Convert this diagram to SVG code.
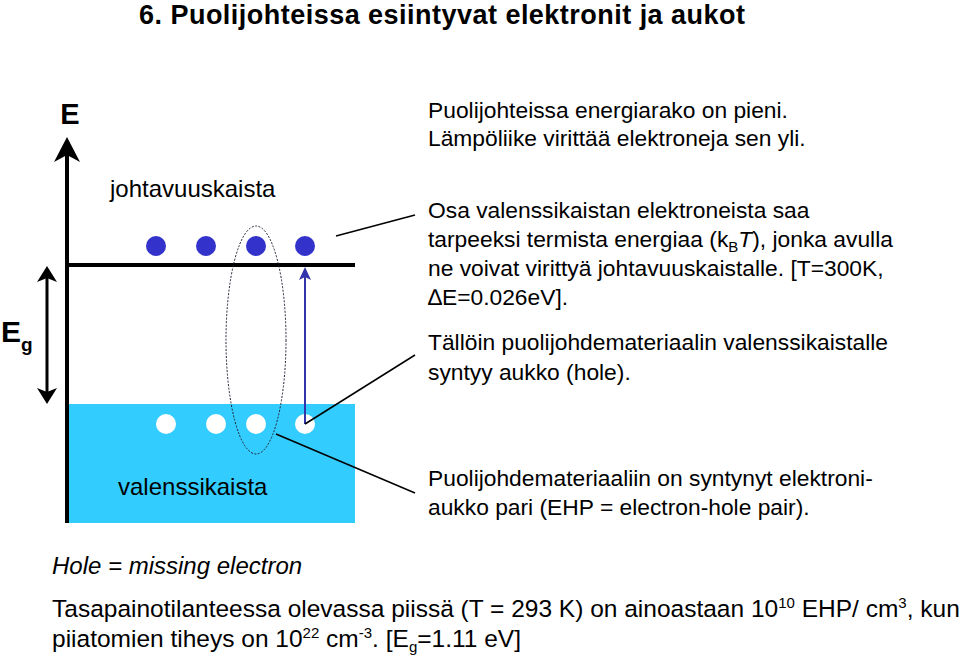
<svg xmlns="http://www.w3.org/2000/svg" width="960" height="658" viewBox="0 0 960 658">
<style>
text{font-family:"Liberation Sans",Arial,sans-serif;fill:#000}
.t{font-size:22.8px}
.b{font-size:24px}
.e{fill:#3333cc}
.h{fill:#fff}
.l{stroke:#000;stroke-width:1.5}
</style>
<rect width="960" height="658" fill="#fff"/>
<text x="139" y="24" font-size="27" font-weight="bold" textLength="606">6. Puolijohteissa esiintyvat elektronit ja aukot</text>
<g id="band">
<rect x="67" y="404" width="288" height="119" fill="#33ccff"/>
<line x1="67" y1="265" x2="355" y2="265" stroke="#000" stroke-width="4"/>
<text x="110" y="197" class="b">johtavuuskaista</text>
<text x="118" y="495" class="b">valenssikaista</text>
</g>
<g id="axis">
<line x1="67" y1="150" x2="67" y2="523" stroke="#000" stroke-width="4"/>
<path d="M54,162 L67,137 L80,162 L67,155Z" fill="#000"/>
<text x="70" y="124" font-size="29" font-weight="bold" text-anchor="middle">E</text>
</g>
<g id="eg">
<line x1="47" y1="275" x2="47" y2="395" stroke="#000" stroke-width="3"/>
<path d="M37,282 L47,266 L57,282 L47,278Z" fill="#000"/>
<path d="M37,388 L47,404 L57,388 L47,392Z" fill="#000"/>
<text x="1" y="342" font-size="30" font-weight="bold">E<tspan font-size="19" dy="9">g</tspan></text>
</g>
<g id="electrons">
<circle class="e" cx="156" cy="246" r="10"/><circle class="e" cx="206" cy="246" r="10"/><circle class="e" cx="256" cy="246" r="10"/><circle class="e" cx="305" cy="246" r="10"/>
</g>
<g id="holes">
<circle class="h" cx="166" cy="424" r="10"/><circle class="h" cx="216" cy="424" r="10"/><circle class="h" cx="256" cy="424" r="10"/><circle class="h" cx="305" cy="424" r="10"/>
</g>
<g id="pair"><ellipse cx="256" cy="340" rx="30" ry="114" fill="none" stroke="#223" stroke-width="1" stroke-dasharray="2,1.5"/></g>
<g id="connectors">
<line x1="305" y1="424" x2="305" y2="272" stroke="#3333aa" stroke-width="2"/>
<path d="M299,280 L305,267 L311,280 L305,277Z" fill="#3333aa"/>
<line class="l" x1="336" y1="236" x2="415" y2="215"/>
<line class="l" x1="305" y1="424" x2="415" y2="355"/>
<line class="l" x1="276" y1="434" x2="415" y2="493"/>
</g>
<g id="texts">
<text x="428" y="118" class="t">Puolijohteissa energiarako on pieni.</text>
<text x="428" y="146" class="t">Lämpöliike virittää elektroneja sen yli.</text>
<text x="428" y="218" class="t">Osa valenssikaistan elektroneista saa</text>
<text x="428" y="247" class="t">tarpeeksi termista energiaa (k<tspan font-size="15" dy="5">B</tspan><tspan dy="-5" font-style="italic">T</tspan>), jonka avulla</text>
<text x="428" y="276" class="t">ne voivat virittyä johtavuuskaistalle. [T=300K,</text>
<text x="428" y="305" class="t">∆E=0.026eV].</text>
<text x="428" y="350" class="t">Tällöin puolijohdemateriaalin valenssikaistalle</text>
<text x="428" y="380" class="t">syntyy aukko (hole).</text>
<text x="428" y="486" class="t">Puolijohdemateriaaliin on syntynyt elektroni-</text>
<text x="428" y="515" class="t">aukko pari (EHP = electron-hole pair).</text>
<text x="52" y="574" class="b" font-style="italic">Hole = missing electron</text>
<text x="52" y="617" font-size="24.5">Tasapainotilanteessa olevassa piissä (T = 293 K) on ainoastaan 10<tspan font-size="15" dy="-9">10</tspan><tspan dy="9"> EHP/ cm</tspan><tspan font-size="15" dy="-9">3</tspan><tspan dy="9">, kun</tspan></text>
<text x="52" y="647" font-size="24.5">piiatomien tiheys on 10<tspan font-size="15" dy="-9">22</tspan><tspan dy="9"> cm</tspan><tspan font-size="15" dy="-9">-3</tspan><tspan dy="9">. [E</tspan><tspan font-size="15" dy="5">g</tspan><tspan dy="-5">=1.11 eV]</tspan></text>
</g>
</svg>
